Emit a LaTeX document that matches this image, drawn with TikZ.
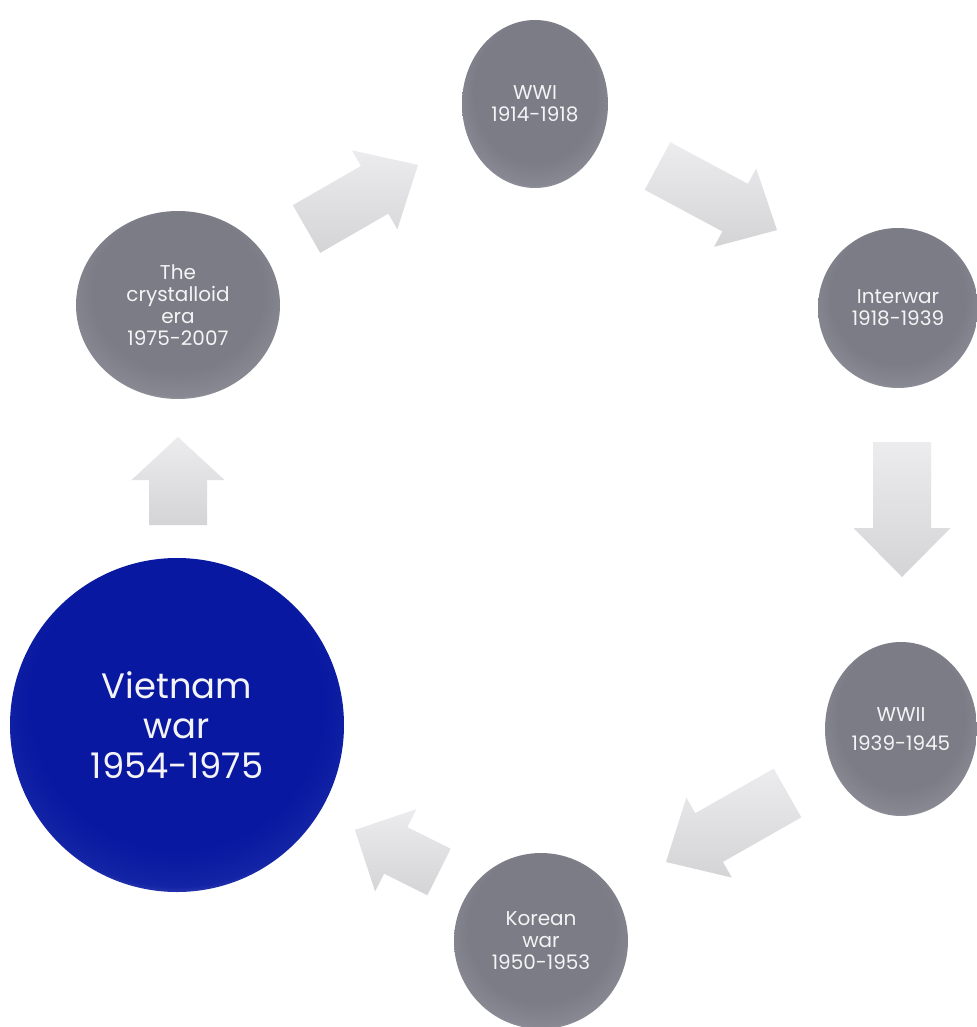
\documentclass[tikz,border=0pt]{standalone}
\usepackage{fontspec}
\setmainfont{Poppins}
\usetikzlibrary{shapes.geometric}

% palette
\definecolor{gbase}{RGB}{124,124,134}
\definecolor{gmid}{RGB}{136,136,146}
\definecolor{glight}{RGB}{200,200,206}
\definecolor{vbase}{RGB}{8,24,160}
\definecolor{vmid}{RGB}{20,36,166}
\definecolor{vlight}{RGB}{122,132,206}
\definecolor{arrowlight}{RGB}{236,236,238}
\definecolor{arrowdark}{RGB}{212,212,214}
\definecolor{labelwhite}{RGB}{244,244,246}

% spheres lit from below: centre of the shading sits a little above the middle
\pgfdeclareradialshading{greyball}{\pgfpoint{0bp}{6bp}}{%
  color(0bp)=(gbase); color(21bp)=(gbase); color(27bp)=(gmid);
  color(31bp)=(glight); color(50bp)=(glight)}
\pgfdeclareradialshading{blueball}{\pgfpoint{0bp}{6bp}}{%
  color(0bp)=(vbase); color(22bp)=(vbase); color(27bp)=(vmid);
  color(31bp)=(vlight); color(50bp)=(vlight)}

\tikzset{
  era/.style={ellipse, shade, shading=greyball, inner sep=0pt,
    text=labelwhite, align=center,
    font=\fontsize{15}{16.5}\selectfont},
  bigera/.style={ellipse, shade, shading=blueball, inner sep=0pt,
    text=labelwhite, align=center,
    font=\fontsize{26.5}{30}\selectfont},
  arrowbody/.style={top color=arrowlight, bottom color=arrowdark, draw=none},
}

% block arrow: tail centre (x,y), screen direction (clockwise, y downwards),
% length, shaft width, head width, head length
\newcommand\blockarrow[7]{%
  \begin{scope}[shift={(#1,#2)},rotate={-(#3)}]
    \shade[arrowbody] (0,{-#5/2}) -- ({#4-#7},{-#5/2}) -- ({#4-#7},{-#6/2})
      -- (#4,0) -- ({#4-#7},{#6/2}) -- ({#4-#7},{#5/2}) -- (0,{#5/2}) -- cycle;
  \end{scope}}

\begin{document}
\begin{tikzpicture}[x=0.75pt,y=-0.75pt]
  \useasboundingbox[fill=white] (0,0) rectangle (977,1027);

  % eras
  \node[era, minimum width=146*0.75pt, minimum height=168*0.75pt] (wwi) at (535,104)
    {WWI\\1914-1918};
  \node[era, minimum width=160*0.75pt, minimum height=160*0.75pt] (interwar) at (898,308)
    {Interwar\\1918-1939};
  \node[era, minimum width=152*0.75pt, minimum height=174*0.75pt] (wwii) at (901,729)
    {WWII\\[5pt]1939-1945};
  \node[era, minimum width=174*0.75pt, minimum height=176*0.75pt] (korean) at (541,941)
    {Korean\\war\\1950-1953};
  \node[bigera, minimum width=334*0.75pt, minimum height=334*0.75pt] (vietnam) at (177,725)
    {Vietnam\\war\\1954-1975};
  \node[era, minimum width=204*0.75pt, minimum height=188*0.75pt] (crystal) at (178,305)
    {The\\crystalloid\\era\\1975-2007};

  % flow between the eras
  \blockarrow{178}{525}{-90}{88}{58}{93}{43}         % vietnam -> crystal
  \blockarrow{306.5}{229}{-29.9}{128.6}{55}{91}{50}  % crystal -> wwi
  \blockarrow{657.5}{166}{28.2}{135.6}{54}{89}{47.5} % wwi -> interwar
  \blockarrow{902}{442}{90}{135}{58}{97}{49}         % interwar -> wwii
  \blockarrow{787.5}{793}{150.4}{139.7}{56}{92}{49.5}% wwii -> korean
  \blockarrow{439}{872}{-153.4}{94}{52}{92}{45.6}    % korean -> vietnam
\end{tikzpicture}
\end{document}
